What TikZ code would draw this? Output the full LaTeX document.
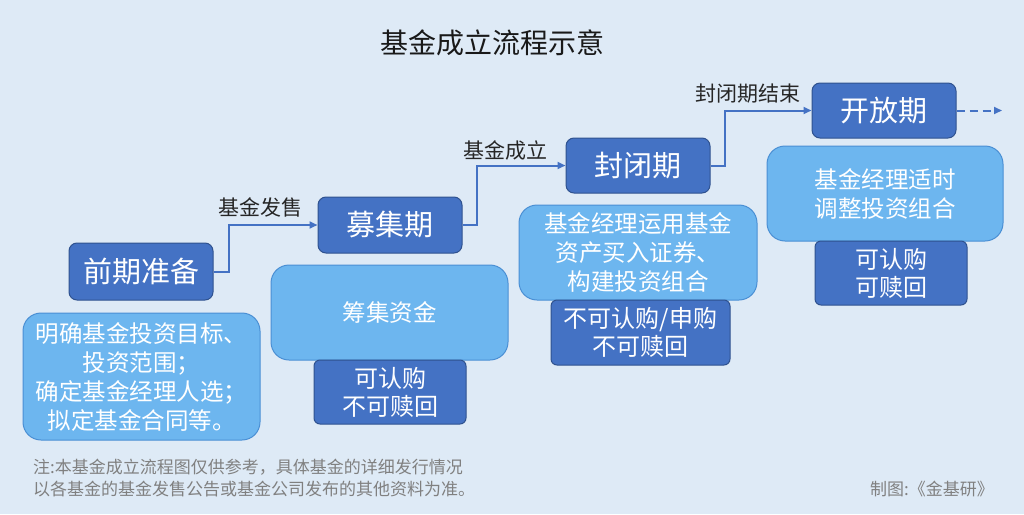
\documentclass[tikz,border=0pt]{standalone}
\usepackage{fontspec}
\setmainfont{Noto Sans CJK SC}
\usetikzlibrary{arrows.meta}
\definecolor{bg}{HTML}{DEEAF6}
\definecolor{darkfill}{HTML}{4472C4}
\definecolor{darkline}{HTML}{2F528F}
\definecolor{lightfill}{HTML}{6DB6EF}
\definecolor{lightline}{HTML}{4A8FD4}
\definecolor{conncol}{HTML}{4472C4}
\definecolor{notecol}{HTML}{808080}
\newcommand{\fs}[2]{\fontsize{#1}{#2}\selectfont}
\tikzset{
  phase/.style={draw=darkline, line width=1pt, fill=darkfill, rounded corners=8pt, text=white,
    minimum width=144pt, minimum height=56pt, inner sep=0pt, font=\fs{29}{34}},
  infobox/.style={draw=lightline, line width=1pt, fill=lightfill, rounded corners=18pt, text=white,
    minimum width=237pt, minimum height=95pt, inner sep=0pt, align=center, font=\fs{23.5}{29}},
  statebox/.style={draw=darkline, line width=1pt, fill=darkfill, rounded corners=6pt, text=white,
    minimum width=152pt, minimum height=64pt, inner sep=0pt, align=center, font=\fs{24}{28}},
  conn/.style={draw=conncol, line width=2pt, -{Triangle[length=8pt,width=7pt]}},
  connlabel/.style={text=black!85, font=\fs{21}{24}, inner sep=0pt},
}
\begin{document}
\begin{tikzpicture}[x=1pt,y=-1pt]
\useasboundingbox[fill=bg] (0,0) rectangle (1024,514);
\node[text=black!90, font=\fs{28}{32}] (title) at (492,43) {基金成立流程示意};

% info boxes (behind state boxes)
\node[infobox, minimum height=127pt] (i1) at (141.5,376.5) {明确基金投资目标、\\投资范围；\\确定基金经理人选；\\拟定基金合同等。};
\node[infobox] (i2) at (389.5,312.5) {筹集资金};
\node[infobox, minimum width=238pt] (i3) at (638,252.5) {基金经理运用基金\\资产买入证券、\\构建投资组合};
\node[infobox, minimum width=236pt] (i4) at (885,193.5) {基金经理适时\\调整投资组合};

% state boxes
\node[statebox] (s2) at (390,392) {可认购\\不可赎回};
\node[statebox, minimum width=179pt, minimum height=65pt] (s3) at (640.5,332.5) {不可认购/申购\\不可赎回};
\node[statebox] (s4) at (891,273) {可认购\\可赎回};

% phases
\node[phase, minimum height=57pt] (p1) at (141,271.5) {前期准备};
\node[phase] (p2) at (390,225) {募集期};
\node[phase, minimum height=55pt] (p3) at (638,165.5) {封闭期};
\node[phase, minimum height=55pt] (p4) at (884,110.5) {开放期};

% connectors
\draw[conn] (p1.east) -- ++(15,0) |- (p2.west);
\draw[conn] (p2.east) -- ++(14,0) |- (p3.west);
\draw[conn] (p3.east) -- ++(14,0) |- (p4.west);
\coordinate (cont) at (1002,110.5);
\draw[conn, dash pattern=on 8pt off 5pt] (p4.east) -- (cont);

\node[connlabel] (l1) at (260,207) {基金发售};
\node[connlabel] (l2) at (505,150) {基金成立};
\node[connlabel] (l3) at (748,94) {封闭期结束};

% notes
\node[text=notecol, font=\fs{17}{22}, anchor=west, align=left, inner sep=0pt] (note) at (33,478)
  {注:本基金成立流程图仅供参考，具体基金的详细发行情况\\以各基金的基金发售公告或基金公司发布的其他资料为准。};
\node[text=notecol, font=\fs{17}{22}, inner sep=0pt] (credit) at (932,489) {制图:《金基研》};
\end{tikzpicture}
\end{document}
